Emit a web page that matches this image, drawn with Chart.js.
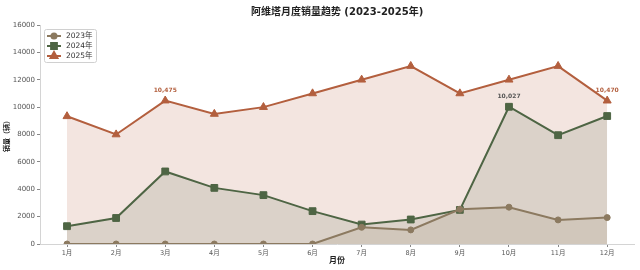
<!DOCTYPE html>
<html>
<head>
<meta charset="utf-8">
<script src="https://cdn.jsdelivr.net/npm/chart.js@4.4.1/dist/chart.umd.min.js"></script>
<style>
  html, body { margin: 0; background: #fff; }
  #wrap { width: 640px; height: 270px; }
</style>
</head>
<body>
<div id="wrap"><canvas id="salesChart"></canvas></div>
<script>
// ── DATA ────────────────────────────────────────────────────────────────
const months = ['1月','2月','3月','4月','5月','6月','7月','8月','9月','10月','11月','12月'];
const seriesNames = ['2023年', '2024年', '2025年'];
const sales2023 = [0, 0, 0, 0, 0, 0, 1220, 1030, 2540, 2690, 1760, 1930];
const sales2024 = [1300, 1900, 5300, 4100, 3570, 2400, 1420, 1790, 2490, 10027, 7950, 9350];
const sales2025 = [9330, 8000, 10475, 9500, 10000, 11000, 12000, 13000, 11000, 12000, 13000, 10470];
const yTicks = [0, 2000, 4000, 6000, 8000, 10000, 12000, 14000, 16000];
// [series index, month index] of points that carry a value label
const labelledPoints = [[2, 2], [1, 9], [2, 11]];

const TITLE = '阿维塔月度销量趋势 (2023-2025年)';
const FONT = "'DejaVu Sans', 'Noto Sans CJK SC', sans-serif";

const STYLE = [
  { line: '#8C7A60', fill: 'rgba(140,122,96,0.13)', point: 'circle',   r: 3 },
  { line: '#4E6544', fill: 'rgba(78,101,68,0.15)',  point: 'rect',     r: 4.8 },
  { line: '#B35F3E', fill: 'rgba(179,95,62,0.16)',  point: 'triangle', r: 4.6 }
];

const allSeries = [sales2023, sales2024, sales2025];

// ── PLUGINS ─────────────────────────────────────────────────────────────
const titlePlugin = {
  id: 'plotTitle',
  afterDraw(chart) {
    const { ctx, chartArea } = chart;
    ctx.save();
    ctx.font = `bold 10px ${FONT}`;
    ctx.fillStyle = '#222';
    ctx.textAlign = 'center';
    ctx.textBaseline = 'middle';
    ctx.fillText(TITLE, (chartArea.left + chartArea.right) / 2, 12);
    ctx.restore();
  }
};

const valueLabels = {
  id: 'valueLabels',
  afterDatasetsDraw(chart) {
    const { ctx } = chart;
    ctx.save();
    ctx.font = `bold 6px ${FONT}`;
    ctx.textAlign = 'center';
    ctx.textBaseline = 'bottom';
    labelledPoints.forEach(([s, m]) => {
      const pt = chart.getDatasetMeta(s).data[m];
      ctx.fillStyle = s === 1 ? '#555' : STYLE[s].line;
      ctx.fillText(allSeries[s][m].toLocaleString('en-US'), pt.x, pt.y - 7);
    });
    ctx.restore();
  }
};

const boxLegend = {
  id: 'boxLegend',
  afterDraw(chart) {
    const { ctx, chartArea } = chart;
    const x0 = chartArea.left + 4, y0 = chartArea.top + 4;
    ctx.save();
    ctx.fillStyle = 'rgba(255,255,255,0.85)';
    ctx.strokeStyle = '#d0d0d0';
    ctx.lineWidth = 1;
    ctx.beginPath();
    ctx.roundRect(x0 + 0.5, y0 + 0.5, 52, 33, 2);
    ctx.fill();
    ctx.stroke();
    ctx.font = `7.5px ${FONT}`;
    ctx.textBaseline = 'middle';
    seriesNames.forEach((name, i) => {
      const y = y0 + 7 + i * 10;
      const st = STYLE[i];
      ctx.strokeStyle = st.line;
      ctx.lineWidth = 2;
      ctx.beginPath();
      ctx.moveTo(x0 + 3, y);
      ctx.lineTo(x0 + 17, y);
      ctx.stroke();
      ctx.fillStyle = st.line;
      Chart.helpers.drawPoint(ctx, { pointStyle: st.point, radius: st.r * 0.85, rotation: 0, borderWidth: 1 }, x0 + 10, y);
      ctx.fillStyle = '#333';
      ctx.fillText(name, x0 + 22, y);
    });
    ctx.restore();
  }
};

// ── CHART ───────────────────────────────────────────────────────────────
const datasets = allSeries.map((vals, i) => ({
  label: seriesNames[i],
  data: vals.map((v, m) => ({ x: m, y: v })),
  borderColor: STYLE[i].line,
  backgroundColor: STYLE[i].fill,
  pointBackgroundColor: STYLE[i].line,
  pointBorderColor: STYLE[i].line,
  pointStyle: STYLE[i].point,
  pointRadius: STYLE[i].r,
  pointBorderWidth: 1,
  borderWidth: 2,
  tension: 0,
  fill: 'origin'
}));

const tickFont = { family: FONT, size: 6.5 };

new Chart(document.getElementById('salesChart'), {
  type: 'line',
  data: { datasets },
  options: {
    responsive: true,
    maintainAspectRatio: false,
    animation: false,
    layout: { padding: { top: 25, right: 4, left: 0, bottom: 0 } },
    plugins: {
      legend: { display: false },
      tooltip: { enabled: false },
      title: { display: false }
    },
    scales: {
      x: {
        type: 'linear',
        min: -0.55,
        max: 11.55,
        afterBuildTicks: s => { s.ticks = months.map((m, i) => ({ value: i })); },
        afterFit: s => { s.height = 26; },
        ticks: {
          callback: v => months[v],
          color: '#555',
          font: tickFont,
          padding: 2,
          maxRotation: 0,
          autoSkip: false
        },
        grid: { drawOnChartArea: false, drawTicks: true, tickLength: 3, color: '#888' },
        border: { display: true, color: '#d4d4d4' },
        title: { display: true, text: '月份', color: '#222', font: { family: FONT, size: 8, weight: 'bold' }, padding: { top: 0, bottom: 4 } }
      },
      y: {
        min: 0,
        max: 16000,
        afterBuildTicks: s => { s.ticks = yTicks.map(v => ({ value: v })); },
        afterFit: s => { s.width = 40; },
        ticks: { callback: v => String(v), color: '#555', font: { family: FONT, size: 7 }, padding: 2 },
        grid: { drawOnChartArea: false, drawTicks: true, tickLength: 3, color: '#888' },
        border: { display: true, color: '#d4d4d4' },
        title: { display: true, text: '销量（辆）', color: '#222', font: { family: FONT, size: 7, weight: 'bold' }, padding: { top: 3, bottom: 0 } }
      }
    }
  },
  plugins: [titlePlugin, valueLabels, boxLegend]
});
</script>
</body>
</html>
